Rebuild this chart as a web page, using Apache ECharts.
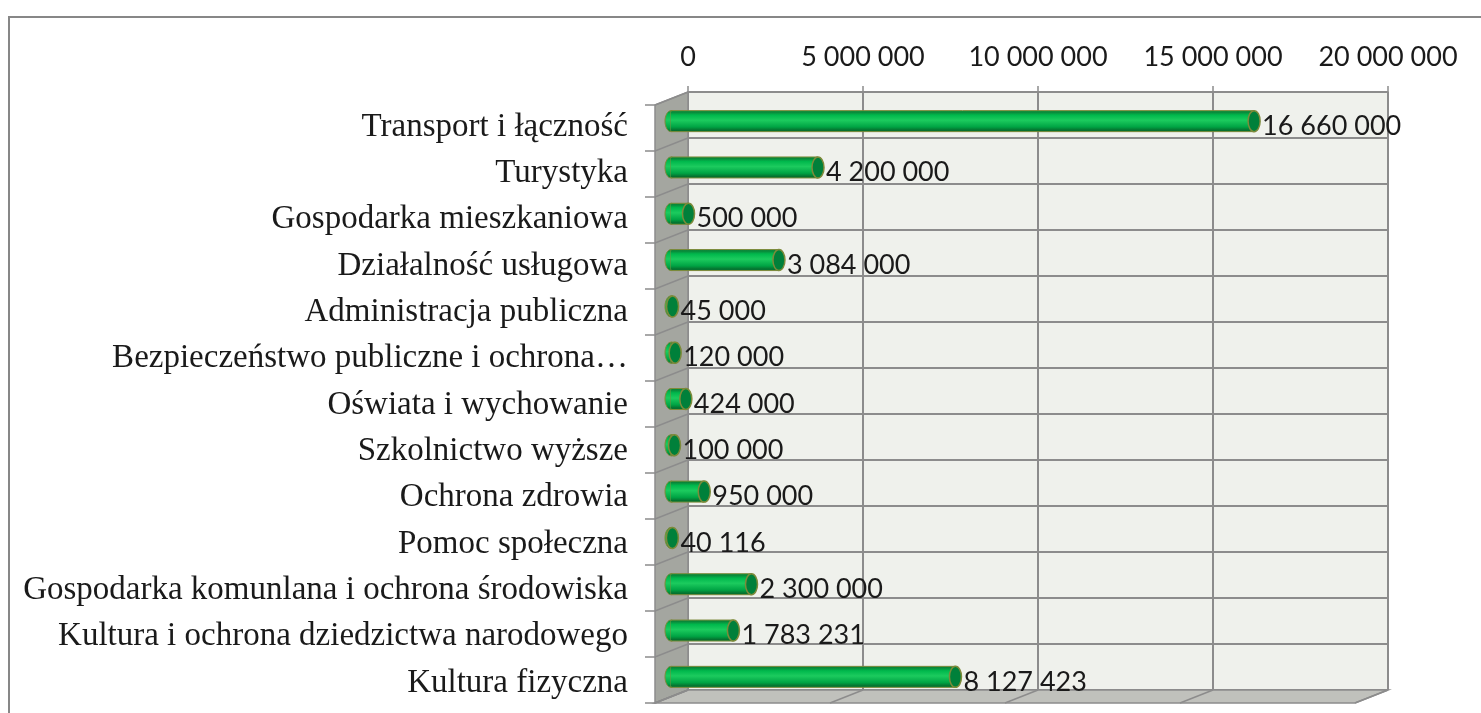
<!DOCTYPE html>
<html>
<head>
<meta charset="utf-8">
<script src="https://cdn.jsdelivr.net/npm/echarts@6/dist/echarts.min.js"></script>
<style>
  html, body { margin: 0; padding: 0; background: #fff; }
  #chart { width: 1481px; height: 713px; }
</style>
</head>
<body>
<div id="chart"></div>
<script>
const categories = [
  'Transport i łączność',
  'Turystyka',
  'Gospodarka mieszkaniowa',
  'Działalność usługowa',
  'Administracja publiczna',
  'Bezpieczeństwo publiczne i ochrona…',
  'Oświata i wychowanie',
  'Szkolnictwo wyższe',
  'Ochrona zdrowia',
  'Pomoc społeczna',
  'Gospodarka komunlana i ochrona środowiska',
  'Kultura i ochrona dziedzictwa narodowego',
  'Kultura fizyczna'
]
const values = [16660000, 4200000, 500000, 3084000, 45000, 120000, 424000, 100000, 950000, 40116, 2300000, 1783231, 8127423]
const axisMax = 20000000
const axisStep = 5000000

// back wall, front (bar) plane and category label band, in px
const back = { left: 688, top: 92, width: 700, height: 598 }
const front = { left: 671, top: 98, width: 700, height: 602 }
const labelBand = { left: 671, top: 104, width: 700, height: 602 }
const depth = { dx: -33, dy: 13 }

const colors = {
  wall: '#eff1ec',
  side: '#a4a6a0',
  floor: '#c0c1bc',
  grid: '#8c8c8c',
  text: '#1a1a1a',
  capFill: '#00803a',
  edge: '#7d8a3a'
}

const fmt = v => String(v).replace(/\B(?=(\d{3})+(?!\d))/g, ' ')

const chart = echarts.init(document.getElementById('chart'))

// decoration: left side wall, floor and their grid lines
const deco = []
deco.push({
  type: 'rect', z: -10,
  shape: { x: 9, y: 17, width: 1500, height: 720 },
  style: { fill: '#fff', stroke: '#878787', lineWidth: 2 }
})
const bx = back.left, by = back.top, bb = back.top + back.height
deco.push({
  type: 'polygon', z: 1,
  shape: { points: [[bx, by], [bx, bb], [bx + depth.dx, bb + depth.dy], [bx + depth.dx, by + depth.dy]] },
  style: { fill: colors.side, stroke: colors.grid, lineWidth: 1.5 }
})
deco.push({
  type: 'polygon', z: 1,
  shape: { points: [[bx, bb], [bx + back.width, bb], [bx + back.width + depth.dx, bb + depth.dy], [bx + depth.dx, bb + depth.dy]] },
  style: { fill: colors.floor, stroke: colors.grid, lineWidth: 1.5 }
})
const rowH = back.height / categories.length
for (let i = 0; i <= categories.length; i++) {
  const y = by + rowH * i
  deco.push({
    type: 'polyline', z: 2,
    shape: { points: [[bx, y], [bx + depth.dx, y + depth.dy], [bx + depth.dx - 10, y + depth.dy]] },
    style: { stroke: colors.grid, lineWidth: 1.5, fill: null }
  })
}
const colW = back.width / (axisMax / axisStep)
for (let i = 0; i <= axisMax / axisStep; i++) {
  const x = bx + colW * i
  deco.push({
    type: 'line', z: 2,
    shape: { x1: x, y1: bb, x2: x + depth.dx, y2: bb + depth.dy },
    style: { stroke: colors.grid, lineWidth: 1.5 }
  })
}

const renderCylinder = (params, api) => {
  const v = api.value(0)
  const idx = api.value(1)
  const p0 = api.coord([0, idx])
  const p1 = api.coord([v, idx])
  const h = 21, rx = 6, ry = h / 2
  const cy = p1[1]
  const body = new echarts.graphic.LinearGradient(0, 0, 0, 1, [
    { offset: 0, color: '#0b7f36' },
    { offset: 0.18, color: '#00b84c' },
    { offset: 0.45, color: '#1ccb5e' },
    { offset: 0.8, color: '#00a444' },
    { offset: 1, color: '#066a2c' }
  ])
  return {
    type: 'group',
    children: [
      {
        type: 'ellipse',
        shape: { cx: p0[0], cy: cy, rx: rx, ry: ry },
        style: { fill: body, stroke: colors.edge, lineWidth: 1 }
      },
      {
        type: 'rect',
        shape: { x: p0[0], y: cy - ry, width: Math.max(p1[0] - p0[0], 0), height: h },
        style: { fill: body, stroke: colors.edge, lineWidth: 1 }
      },
      {
        type: 'rect',
        shape: { x: p0[0], y: cy - ry + 1, width: Math.max(p1[0] - p0[0], 0), height: h - 2 },
        style: { fill: body }
      },
      {
        type: 'ellipse',
        shape: { cx: p1[0], cy: cy, rx: rx, ry: ry },
        style: { fill: colors.capFill, stroke: colors.edge, lineWidth: 1.5 }
      },
      {
        type: 'text',
        style: {
          x: p1[0] + rx + 2, y: cy + 5,
          text: fmt(v),
          fill: colors.text,
          font: '27px Lato',
          verticalAlign: 'middle',
          align: 'left'
        }
      }
    ]
  }
}

chart.setOption({
  animation: false,
  backgroundColor: '#fff',
  graphic: deco,
  grid: [
    { ...back, show: true, backgroundColor: colors.wall, borderWidth: 0 },
    { ...front },
    { ...labelBand }
  ],
  xAxis: [
    {
      gridIndex: 0, type: 'value', position: 'top',
      min: 0, max: axisMax, interval: axisStep,
      axisLine: { show: true, lineStyle: { color: colors.grid, width: 1.5 } },
      axisTick: { show: true, length: 6, lineStyle: { color: colors.grid, width: 1.5 } },
      splitLine: { show: true, lineStyle: { color: colors.grid, width: 2 } },
      axisLabel: { color: colors.text, fontFamily: 'Lato', fontSize: 27, margin: 21, formatter: fmt }
    },
    { gridIndex: 1, type: 'value', min: 0, max: axisMax, show: false },
    { gridIndex: 2, type: 'value', min: 0, max: axisMax, show: false }
  ],
  yAxis: [
    {
      gridIndex: 0, type: 'category', inverse: true, data: categories,
      axisLine: { show: false }, axisTick: { show: false }, axisLabel: { show: false },
      splitLine: { show: true, lineStyle: { color: colors.grid, width: 2 } }
    },
    {
      gridIndex: 1, type: 'category', inverse: true, data: categories, show: false
    },
    {
      gridIndex: 2, type: 'category', inverse: true, data: categories,
      axisLine: { show: false }, axisTick: { show: false },
      axisLabel: {
        color: colors.text, fontFamily: 'Liberation Serif', fontSize: 33, margin: 43
      }
    }
  ],
  series: [
    {
      type: 'custom',
      xAxisIndex: 1, yAxisIndex: 1,
      z: 5,
      renderItem: renderCylinder,
      encode: { x: 0, y: 1 },
      data: values.map((v, i) => [v, i]),
      clip: false
    }
  ]
})
</script>
</body>
</html>
